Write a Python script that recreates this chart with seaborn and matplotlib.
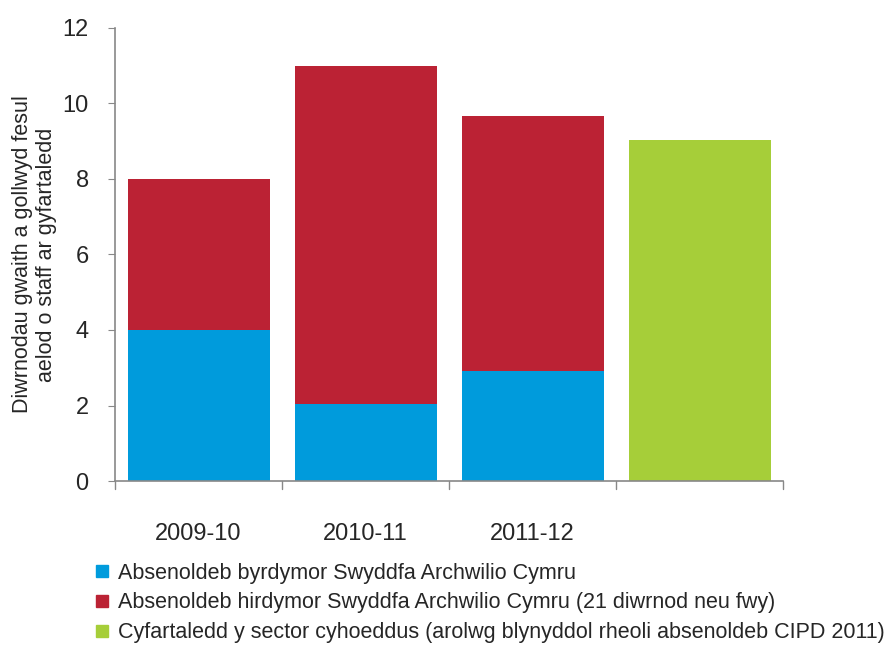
import matplotlib
matplotlib.use("Agg")
import matplotlib.pyplot as plt
import seaborn as sns
import pandas as pd
from matplotlib.lines import Line2D

# Data
categories = ["2009-10", "2010-11", "2011-12", " "]
short_term = [4.0, 2.05, 2.92, 0]
long_term = [4.0, 8.95, 6.75, 0]
public_avg = [0, 0, 0, 9.03]

legend_labels = [
    "Absenoldeb byrdymor Swyddfa Archwilio Cymru",
    "Absenoldeb hirdymor Swyddfa Archwilio Cymru (21 diwrnod neu fwy)",
    "Cyfartaledd y sector cyhoeddus (arolwg blynyddol rheoli absenoldeb CIPD 2011)",
]
colors = ["#009bdc", "#bb2234", "#a6ce39"]

df = pd.DataFrame({"cat": categories, "short": short_term, "long": long_term, "avg": public_avg})
df["total"] = df["short"] + df["long"]

sns.set_style("white")
plt.rcParams["font.family"] = ["Liberation Sans", "DejaVu Sans"]

fig = plt.figure(figsize=(8.92, 6.46), dpi=100)
ax = fig.add_axes([0.129, 0.2554, 0.749, 0.7013])

bar_kw = dict(width=0.85, ax=ax, saturation=1, linewidth=0)
sns.barplot(data=df, x="cat", y="total", color=colors[1], **bar_kw)
sns.barplot(data=df, x="cat", y="short", color=colors[0], **bar_kw)
sns.barplot(data=df, x="cat", y="avg", color=colors[2], **bar_kw)

ax.set_xlim(-0.5, len(categories) - 0.5)
ax.set_ylim(0, 12)
ax.set_yticks(range(0, 13, 2))
ax.tick_params(axis="y", length=5, color="#888888", labelsize=17, pad=14, left=True)
ax.tick_params(axis="x", length=0, labelsize=17, pad=30)
# tick marks between categories on x axis
for xb in [-0.5, 0.5, 1.5, 2.5, 3.5]:
    ax.plot([xb, xb], [0, -0.2], color="#888888", lw=1, clip_on=False)

for s in ["top", "right"]:
    ax.spines[s].set_visible(False)
for s in ["left", "bottom"]:
    ax.spines[s].set_color("#888888")
    ax.spines[s].set_linewidth(1.2)

ax.set_xlabel("")
ax.set_ylabel("Diwrnodau gwaith a gollwyd fesul\naelod o staff ar gyfartaledd", fontsize=15.5, labelpad=4)

handles = [Line2D([], [], marker="s", linestyle="", markersize=9, color=c) for c in colors]
fig.legend(handles, legend_labels, loc="upper left", bbox_to_anchor=(0.093, 0.142),
           frameon=False, fontsize=15.5, handletextpad=0.25, labelspacing=0.4,
           handlelength=1.0, borderaxespad=0)

fig.savefig("out.png", dpi=100)
